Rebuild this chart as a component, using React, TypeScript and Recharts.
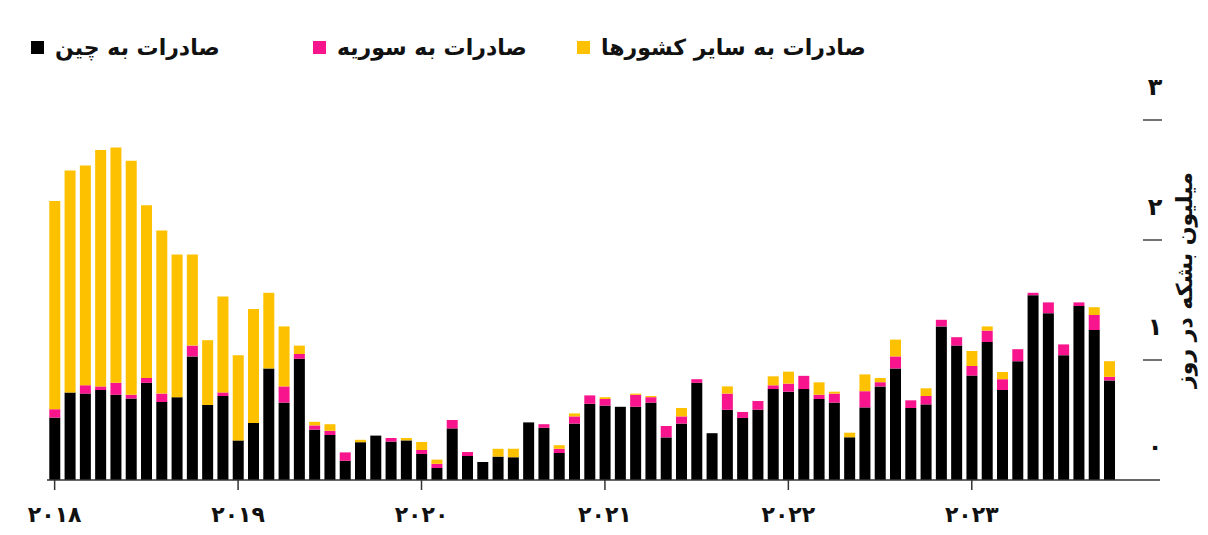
import React from 'react';
import { BarChart, Bar, XAxis, YAxis } from 'recharts';

const YEARS = ['2018', '2019', '2020', '2021', '2022', '2023'];
const YEAR_LABELS = ['۲۰۱۸', '۲۰۱۹', '۲۰۲۰', '۲۰۲۱', '۲۰۲۲', '۲۰۲۳'];
const MONTH_NUMS = ['01', '02', '03', '04', '05', '06', '07', '08', '09', '10', '11', '12'];
// Jan 2018 .. Oct 2023
const MONTHS = YEARS.flatMap((y) => MONTH_NUMS.map((m) => `${y}-${m}`)).slice(0, 70);

// million barrels per day
const CHINA = [
  0.52, 0.73, 0.72, 0.75, 0.71, 0.68, 0.81, 0.65, 0.69, 1.03, 0.625, 0.7,
  0.33, 0.475, 0.93, 0.645, 1.01, 0.42, 0.375, 0.16, 0.315, 0.37, 0.32, 0.33,
  0.217, 0.1, 0.43, 0.2, 0.15, 0.195, 0.19, 0.48, 0.435, 0.225, 0.47, 0.635,
  0.62, 0.61, 0.61, 0.645, 0.355, 0.47, 0.81, 0.39, 0.585, 0.517, 0.586, 0.758,
  0.736, 0.758, 0.675, 0.645, 0.356, 0.605, 0.78, 0.93, 0.6, 0.63, 1.28, 1.12,
  0.87, 1.15, 0.75, 0.99, 1.54, 1.39, 1.04, 1.45, 1.25, 0.83,
];
const SYRIA = [
  0.07, 0, 0.07, 0.03, 0.1, 0.03, 0.04, 0.07, 0, 0.09, 0, 0.03,
  0, 0, 0, 0.135, 0.04, 0.035, 0.035, 0.07, 0, 0, 0.03, 0,
  0.033, 0.035, 0.07, 0.033, 0, 0, 0, 0, 0.03, 0.035, 0.06, 0.07,
  0.055, 0, 0.1, 0.045, 0.095, 0.06, 0.03, 0, 0.135, 0.05, 0.072, 0.031,
  0.067, 0.11, 0.035, 0.075, 0, 0.135, 0.035, 0.1, 0.064, 0.07, 0.055, 0.07,
  0.08, 0.095, 0.09, 0.1, 0.02, 0.09, 0.09, 0.03, 0.125, 0.03,
];
const OTHER = [
  1.735, 1.85, 1.83, 1.97, 1.96, 1.95, 1.44, 1.36, 1.19, 0.76, 0.54, 0.8,
  0.71, 0.95, 0.63, 0.5, 0.07, 0.03, 0.055, 0, 0.02, 0, 0, 0.02,
  0.067, 0.035, 0, 0, 0, 0.065, 0.07, 0, 0, 0.03, 0.025, 0,
  0.015, 0, 0.01, 0.01, 0, 0.07, 0, 0, 0.06, 0, 0, 0.075,
  0.1, 0, 0.104, 0.016, 0.038, 0.14, 0.035, 0.14, 0, 0.064, 0, 0,
  0.125, 0.035, 0.06, 0, 0, 0, 0, 0, 0.065, 0.13,
];

const Y_TICKS = [0, 1, 2, 3];
const Y_TICK_LABELS = ['۰', '۱', '۲', '۳'];
const Y_TITLE = 'میلیون بشکه در روز';

const LEGEND = [
  { key: 'china', name: 'صادرات به چین', color: '#000000' },
  { key: 'syria', name: 'صادرات به سوریه', color: '#f7148c' },
  { key: 'other', name: 'صادرات به سایر کشورها', color: '#fdc100' },
];

const FONT = '"DejaVu Sans", "Noto Sans", sans-serif';

const data = MONTHS.map((month, i) => ({
  month,
  china: CHINA[i],
  syria: SYRIA[i],
  other: OTHER[i],
}));

const yearLabel = (month: string) => {
  const idx = YEARS.indexOf(month.slice(0, 4));
  return idx >= 0 ? YEAR_LABELS[idx] : '';
};

const XTick = (props: any) => {
  const { x, y, payload } = props;
  return (
    <text
      x={x}
      y={y + 24}
      textAnchor="middle"
      dominantBaseline="central"
      fontFamily={FONT}
      fontWeight="bold"
      fontSize={22}
      fill="#111"
    >
      {yearLabel(payload.value)}
    </text>
  );
};

const YTick = (props: any) => {
  const { x, y, payload } = props;
  const label = Y_TICK_LABELS[Y_TICKS.indexOf(payload.value)];
  return (
    <g>
      {payload.value > 0 && (
        <line x1={x - 17} x2={x + 2} y1={y} y2={y} stroke="#444" strokeWidth={1.5} />
      )}
      <text
        x={x - 5}
        y={y - 33}
        textAnchor="middle"
        dominantBaseline="central"
        fontFamily={FONT}
        fontWeight="bold"
        fontSize={24}
        fill="#111"
      >
        {label}
      </text>
    </g>
  );
};

const YTitle = (props: any) => {
  const { viewBox } = props;
  const cx = viewBox.x + 24;
  const cy = viewBox.y + 160;
  return (
    <text
      x={cx}
      y={cy}
      transform={`rotate(-90 ${cx} ${cy})`}
      textAnchor="middle"
      dominantBaseline="central"
      fontFamily={FONT}
      fontWeight="bold"
      fontSize={22}
      fill="#111"
    >
      {Y_TITLE}
    </text>
  );
};

export default function App() {
  return (
    <div style={{ position: 'relative', width: 1208, height: 535, margin: -8, background: '#fff' }}>
      <div style={{ position: 'absolute', left: 3, top: 0, width: 1, height: 500, background: '#c8c8c8' }} />
      <div
        style={{
          position: 'absolute',
          top: 35,
          left: 0,
          width: 1208,
          fontFamily: FONT,
          fontWeight: 'bold',
          fontSize: 22,
          color: '#111',
        }}
      >
        {LEGEND.map((item, i) => (
          <div
            key={item.key}
            style={{
              position: 'absolute',
              top: 0,
              left: [31, 313, 577][i],
              display: 'flex',
              flexDirection: 'row',
              alignItems: 'center',
              gap: 11,
              whiteSpace: 'nowrap',
            }}
          >
            <span style={{ width: 13, height: 13, background: item.color, display: 'inline-block' }} />
            <span dir="rtl">{item.name}</span>
          </div>
        ))}
      </div>
      <BarChart
        width={1208}
        height={535}
        data={data}
        margin={{ top: 120, right: 0, bottom: 0, left: 47 }}
        barCategoryGap="15%"
      >
        <XAxis
          dataKey="month"
          interval={11}
          height={55}
          padding={{ left: 0, right: 43 }}
          axisLine={{ stroke: '#333', strokeWidth: 1.5 }}
          tickLine={{ stroke: '#333', strokeWidth: 1.5 }}
          tickSize={10}
          tickMargin={0}
          tick={<XTick />}
        />
        <YAxis
          orientation="right"
          width={48}
          domain={[0, 3]}
          ticks={Y_TICKS}
          axisLine={false}
          tickLine={false}
          tickSize={0}
          tickMargin={0}
          tick={<YTick />}
          label={<YTitle />}
        />
        {LEGEND.map((item) => (
          <Bar
            key={item.key}
            dataKey={item.key}
            name={item.name}
            stackId="a"
            fill={item.color}
            isAnimationActive={false}
          />
        ))}
      </BarChart>
    </div>
  );
}
